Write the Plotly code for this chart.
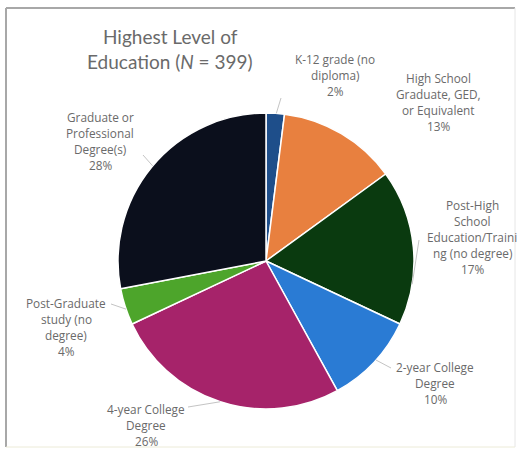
import math
import plotly.graph_objects as go

# Education categories, in clockwise order from 12 o'clock
categories = [
    "K-12 grade (no diploma)",
    "High School Graduate, GED, or Equivalent",
    "Post-High School Education/Training (no degree)",
    "2-year College Degree",
    "4-year College Degree",
    "Post-Graduate study (no degree)",
    "Graduate or Professional Degree(s)",
]
percents = [2, 13, 17, 10, 26, 4, 28]

# Label text as wrapped on the chart
label_lines = [
    ["K-12 grade (no", "diploma)"],
    ["High School", "Graduate, GED,", "or Equivalent"],
    ["Post-High", "School", "Education/Traini", "ng (no degree)"],
    ["2-year College", "Degree"],
    ["4-year College", "Degree"],
    ["Post-Graduate", "study (no", "degree)"],
    ["Graduate or", "Professional", "Degree(s)"],
]

colors = ["#1E4E8A", "#E8803F", "#0A3A0F", "#2A7BD4", "#A6236A", "#4DA52B", "#0B0F1C"]

W, H = 519, 449
CX, CY, R = 266, 261, 148  # pie centre and radius in pixels

# Label block: centre x and first-line y (px); leader lines: (angle on rim, outer end px)
label_pos = [(335, 59), (438, 78), (472, 205), (435, 367), (146, 409), (66, 303), (100, 117)]
LINE_STEP = 16
leaders = [(4, (281, 98)), None, (99, (419, 240)), (132, (391, 368)),
           (198, (188, 407)), (251, (111, 304)), (310, (143, 155))]


def px(x, y):
    return x / W, 1 - y / H


fig = go.Figure(
    go.Pie(
        labels=categories,
        values=percents,
        sort=False,
        direction="clockwise",
        rotation=0,
        textinfo="none",
        hoverinfo="label+percent",
        marker=dict(colors=colors, line=dict(color="white", width=1.5)),
        domain=dict(x=[(CX - R) / W, (CX + R) / W], y=[1 - (CY + R) / H, 1 - (CY - R) / H]),
        showlegend=False,
    )
)

annotations = []
for lines, pct, (lx, ly) in zip(label_lines, percents, label_pos):
    rows = lines + [f"{pct}%"]
    for i, row in enumerate(rows):
        x, y = px(lx, ly + i * LINE_STEP)
        annotations.append(dict(
            x=x, y=y, xref="paper", yref="paper", text=row, showarrow=False,
            xanchor="center", yanchor="middle", align="center",
            font=dict(family="Open Sans", size=11.8, color="#6a6a6a"),
        ))

for i, row in enumerate(["Highest Level of", "Education (<i>N</i> = 399)"]):
    x, y = px(170, 36 + i * 25)
    annotations.append(dict(
        x=x, y=y, xref="paper", yref="paper", text=row, showarrow=False,
        xanchor="center", yanchor="middle", align="center",
        font=dict(family="Lato", size=19, color="#6a6a6a"),
    ))

shapes = []
for item in leaders:
    if item is None:
        continue
    ang, (ex, ey) = item
    sx = CX + R * math.sin(math.radians(ang))
    sy = CY - R * math.cos(math.radians(ang))
    x0, y0 = px(sx, sy)
    x1, y1 = px(ex, ey)
    shapes.append(dict(type="line", xref="paper", yref="paper", x0=x0, y0=y0, x1=x1, y1=y1,
                       line=dict(color="#c4c4c4", width=1)))

# Chart frame
fx0, fy0 = px(6, 8)
fx1, fy1 = px(515, 447)
shapes.append(dict(type="line", xref="paper", yref="paper", x0=fx0, y0=fy0, x1=fx0, y1=fy1,
                   line=dict(color="#a8a8a8", width=2)))
shapes.append(dict(type="line", xref="paper", yref="paper", x0=fx0, y0=fy0, x1=fx1, y1=fy0,
                   line=dict(color="#a8a8a8", width=2)))
shapes.append(dict(type="line", xref="paper", yref="paper", x0=fx1, y0=fy0, x1=fx1, y1=fy1,
                   line=dict(color="#e6e6e6", width=1)))
shapes.append(dict(type="line", xref="paper", yref="paper", x0=fx0, y0=fy1, x1=fx1, y1=fy1,
                   line=dict(color="#ecebd8", width=1)))

fig.update_layout(
    width=W, height=H,
    margin=dict(l=0, r=0, t=0, b=0),
    paper_bgcolor="white",
    plot_bgcolor="white",
    annotations=annotations,
    shapes=shapes,
)

fig.write_html("out.html")
